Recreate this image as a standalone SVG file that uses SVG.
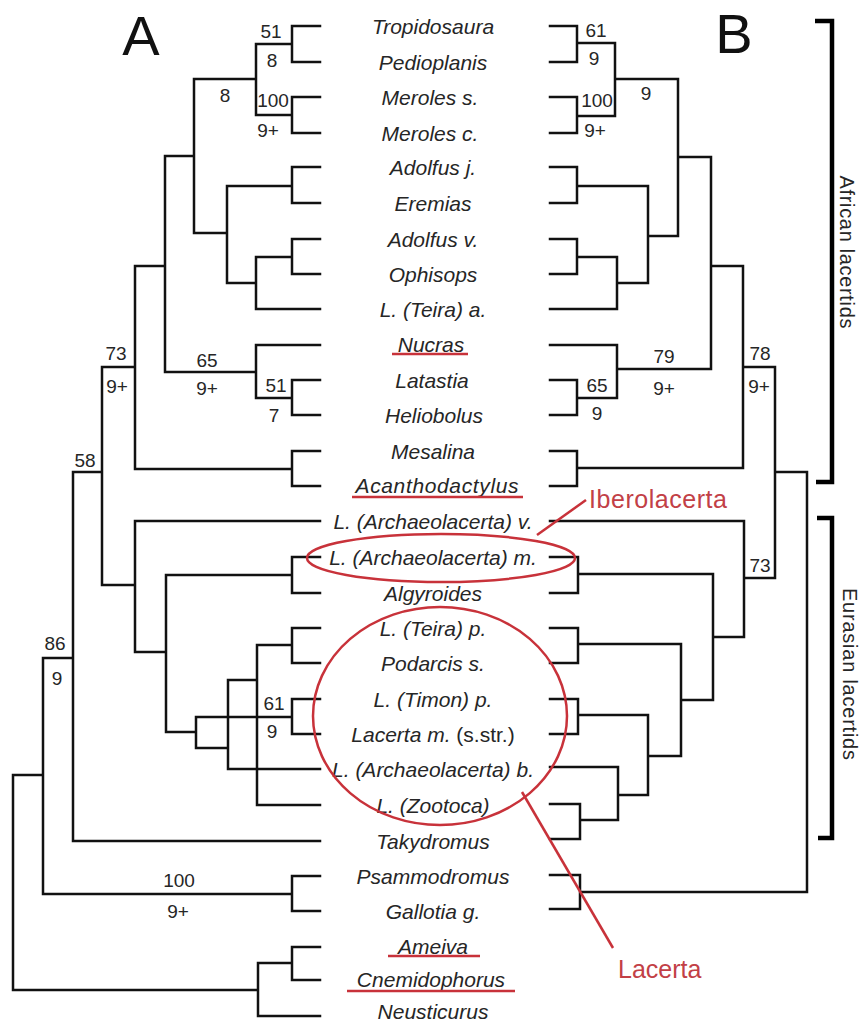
<svg xmlns="http://www.w3.org/2000/svg" width="860" height="1023" viewBox="0 0 860 1023">
<style>
.tx{font-family:"Liberation Sans",Arial,sans-serif;font-style:italic;font-size:21px;text-anchor:middle;fill:#262626}
.up{font-style:normal}
.num{font-family:"Liberation Sans",Arial,sans-serif;font-size:19px;text-anchor:middle;fill:#262626}
.big{font-family:"Liberation Sans",Arial,sans-serif;font-size:56px;text-anchor:middle;fill:#111}
.grp{font-family:"Liberation Sans",Arial,sans-serif;font-size:20px;text-anchor:middle;fill:#262626}
.red{font-family:"Liberation Sans",Arial,sans-serif;font-size:25px;fill:#c24046}
.ln{stroke:#111;stroke-width:2.5;fill:none;stroke-linecap:square}
.brk{stroke:#000;stroke-width:4.5;fill:none}
.rl{stroke:#c8323a;stroke-width:2.5;fill:none}
</style>
<rect width="860" height="1023" fill="#fff"/>
<text class="big" x="141" y="55">A</text>
<text class="big" x="734" y="53">B</text>

<g id="connectors">
<path class="ln" d="M320,26H292V62H320M292,44H256M320,97H292V133H320M292,115H256M256,44V115M256,79H194
M320,167H292V203H320M292,186H227M320,239H292V274H320M292,257H256M320,309H256M256,257V309M256,283H227M227,186V283M227,233H194
M194,79V233M194,156H165M320,345H256M320,380H292V415H320M292,398H256M256,345V398M256,372H165M165,156V372M165,266H135
M320,451H292V486H320M292,469H135M135,266V469M135,367H102
M320,521H135M320,557H292V593H320M292,575H166M320,628H292V663H320M292,645H257M320,699H292V734H320M292,717H196
M257,645V805H320M228,680H257M228,680V769H320M196,717V748H228M166,575V732H196M135,521V652H166M102,367V585H135
M320,841H73M73,472V841M73,472H102M73,658H43M320,876H292V911H320M292,894H43M43,658V894M43,775H13
M320,947H292V980H320M292,963H258M320,1016H258M258,963V1016M258,990H13M13,775V990"/>
<path class="ln" d="M550,26H577V62H550M577,43H615M550,97H577V133H550M577,116H615M615,43V116M615,79H678
M550,167H577V203H550M577,186H648M550,239H577V274H550M577,257H617M550,309H617M617,257V309M617,283H648M648,186V283M648,236H678
M678,79V236M678,157H711M550,345H617M550,380H577V415H550M577,398H617M617,345V398M617,369H711M711,157V369M711,266H743
M550,451H577V486H550M577,468H743M743,266V468M743,367H775
M550,521H744M744,521V637M744,578H775M775,367V578M775,472H807
M550,557H578V593H550M578,574H713M713,574V700M713,637H744
M550,628H578V663H550M578,644H681M681,644V756M681,700H713
M550,699H578V734H550M578,715H648M648,715V795M648,756H681
M550,767H618M618,767V820M618,795H648M550,804H580V839H550M580,820H618
M550,875H580V909H550M580,892H807M807,472V892"/>
</g>

<g id="support-values">
<text class="num" x="271" y="38">51</text><text class="num" x="272" y="67">8</text>
<text class="num" x="273" y="107">100</text><text class="num" x="268" y="137">9+</text>
<text class="num" x="225" y="102">8</text>
<text class="num" x="207" y="367">65</text><text class="num" x="207" y="395">9+</text>
<text class="num" x="276" y="392">51</text><text class="num" x="274" y="422">7</text>
<text class="num" x="116" y="360">73</text><text class="num" x="117" y="393">9+</text>
<text class="num" x="85" y="467">58</text>
<text class="num" x="55" y="650">86</text><text class="num" x="57" y="685">9</text>
<text class="num" x="274" y="710">61</text><text class="num" x="272" y="738">9</text>
<text class="num" x="179" y="887">100</text><text class="num" x="178" y="918">9+</text>
<text class="num" x="596" y="37">61</text><text class="num" x="594" y="65">9</text>
<text class="num" x="597" y="107">100</text><text class="num" x="595" y="137">9+</text>
<text class="num" x="646" y="100">9</text>
<text class="num" x="664" y="363">79</text><text class="num" x="664" y="395">9+</text>
<text class="num" x="597" y="392">65</text><text class="num" x="597" y="420">9</text>
<text class="num" x="760" y="360">78</text><text class="num" x="759" y="393">9+</text>
<text class="num" x="760" y="572">73</text>
</g>

<g id="t00"><text class="tx" x="433" y="34">Tropidosaura</text></g>
<g id="t01"><text class="tx" x="433" y="70">Pedioplanis</text></g>
<g id="t02"><text class="tx" x="430" y="105">Meroles s.</text></g>
<g id="t03"><text class="tx" x="430" y="141">Meroles c.</text></g>
<g id="t04"><text class="tx" x="433" y="175">Adolfus j.</text></g>
<g id="t05"><text class="tx" x="433" y="211">Eremias</text></g>
<g id="t06"><text class="tx" x="433" y="247">Adolfus v.</text></g>
<g id="t07"><text class="tx" x="433" y="282">Ophisops</text></g>
<g id="t08"><text class="tx" x="433" y="317">L. (Teira) a.</text></g>
<g id="t09"><text class="tx" x="431" y="352">Nucras</text></g>
<g id="t10"><text class="tx" x="432" y="388">Latastia</text></g>
<g id="t11"><text class="tx" x="434" y="423">Heliobolus</text></g>
<g id="t12"><text class="tx" x="433" y="459">Mesalina</text></g>
<g id="t13"><text class="tx" x="437" y="493" textLength="163">Acanthodactylus</text></g>
<g id="t14"><text class="tx" x="433" y="529">L. (Archaeolacerta) v.</text></g>
<g id="t15"><text class="tx" x="433" y="565">L. (Archaeolacerta) m.</text></g>
<g id="t16"><text class="tx" x="433" y="601">Algyroides</text></g>
<g id="t17"><text class="tx" x="433" y="636">L. (Teira) p.</text></g>
<g id="t18"><text class="tx" x="433" y="671">Podarcis s.</text></g>
<g id="t19"><text class="tx" x="433" y="707">L. (Timon) p.</text></g>
<g id="t20"><text class="tx" x="433" y="742">Lacerta m. <tspan class="up">(s.str.)</tspan></text></g>
<g id="t21"><text class="tx" x="433" y="777">L. (Archaeolacerta) b.</text></g>
<g id="t22"><text class="tx" x="433" y="813">L. (Zootoca)</text></g>
<g id="t23"><text class="tx" x="433" y="849">Takydromus</text></g>
<g id="t24"><text class="tx" x="433" y="884">Psammodromus</text></g>
<g id="t25"><text class="tx" x="433" y="919">Gallotia g.</text></g>
<g id="t26"><text class="tx" x="433" y="954">Ameiva</text></g>
<g id="t27"><text class="tx" x="431" y="987">Cnemidophorus</text></g>
<g id="t28"><text class="tx" x="433" y="1019">Neusticurus</text></g>

<g id="brackets">
<path class="brk" d="M815,21H832V482H816"/>
<path class="brk" d="M817,518H832V838H818"/>
<text class="grp" transform="translate(840,252) rotate(90)" textLength="153">African lacertids</text>
<text class="grp" transform="translate(843,674) rotate(90)" textLength="172">Eurasian lacertids</text>
</g>

<g id="annotations">
<path class="rl" d="M392,354H468M352,497H523M388,956H480M347,991H515"/>
<ellipse class="rl" cx="441" cy="558" rx="134" ry="24"/>
<ellipse class="rl" cx="440" cy="716" rx="127" ry="109"/>
<path class="rl" d="M537,535L586,500"/>
<path class="rl" d="M522,792L613,948"/>
<text class="red" x="589" y="508" textLength="138">Iberolacerta</text>
<text class="red" x="618" y="978">Lacerta</text>
</g>
</svg>
